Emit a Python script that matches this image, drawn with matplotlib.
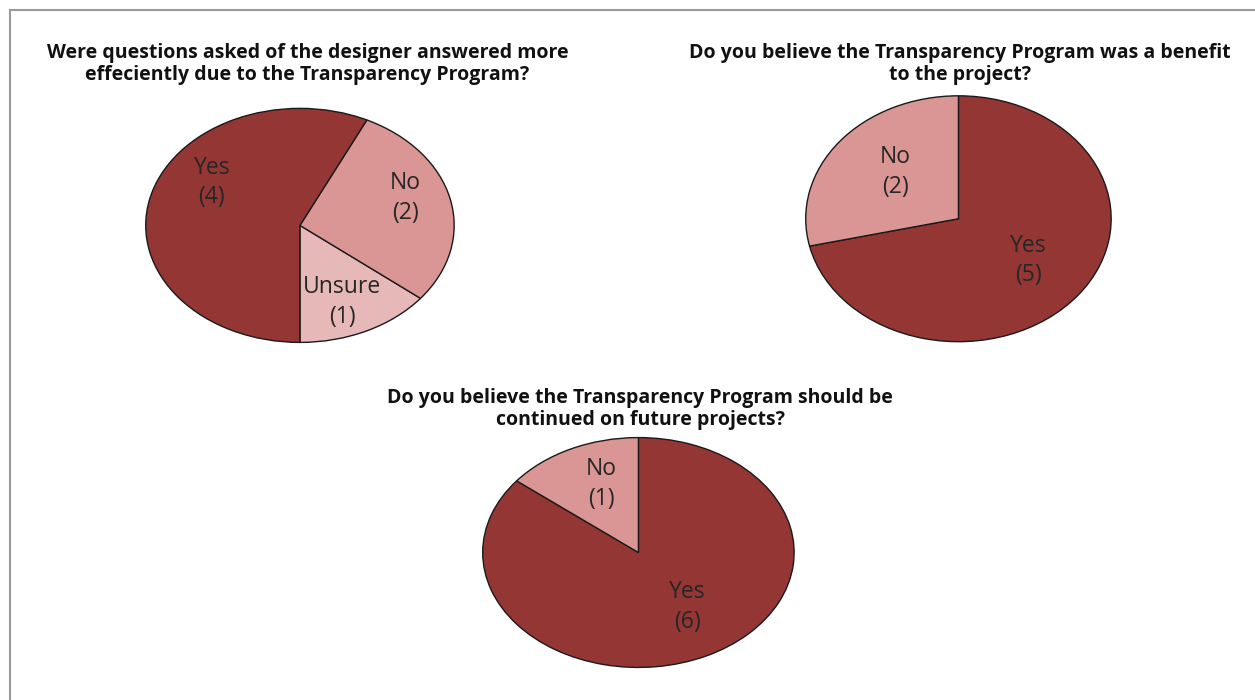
import numpy as np
import matplotlib
matplotlib.use("Agg")
import matplotlib.pyplot as plt
from matplotlib.lines import Line2D

# Survey answers for each question
q1_title = "Were questions asked of the designer answered more\neffeciently due to the Transparency Program?"
q1_labels = ["Unsure", "No", "Yes"]
q1_counts = [1, 2, 4]

q2_title = "Do you believe the Transparency Program was a benefit\nto the project?"
q2_labels = ["Yes", "No"]
q2_counts = [5, 2]

q3_title = "Do you believe the Transparency Program should be\ncontinued on future projects?"
q3_labels = ["Yes", "No"]
q3_counts = [6, 1]

DARK = "#943634"
MID = "#d99694"
LIGHT = "#e6b9b8"
TEXT = "#262626"

plt.rcParams["font.family"] = ["Open Sans", "DejaVu Sans"]

fig = plt.figure(figsize=(12.55, 7), dpi=100)
fig.patch.set_facecolor("white")


def draw_pie(rect, labels, counts, colors, start, ccw, radii, shifts):
    ax = fig.add_axes(rect)
    wedges, texts = ax.pie(
        counts,
        labels=[f"{l}\n({c})" for l, c in zip(labels, counts)],
        colors=colors,
        startangle=start,
        counterclock=ccw,
        wedgeprops=dict(edgecolor="#1a1a1a", linewidth=1.0),
        textprops=dict(color=TEXT, fontsize=16.5, linespacing=1.3),
    )
    # put each label inside its wedge, nudged along the arc
    for w, t, r, s in zip(wedges, texts, radii, shifts):
        ang = np.deg2rad((w.theta1 + w.theta2) / 2 + s)
        t.set_position((r * np.cos(ang), r * np.sin(ang)))
        t.set_ha("center")
        t.set_va("center")
    # stretch the pie to fill the axes box (elliptical look)
    ax.set_aspect("auto")
    ax.set_xlim(-1.005, 1.005)
    ax.set_ylim(-1.005, 1.005)
    return ax


draw_pie([0.1155, 0.510, 0.247, 0.336], q1_labels, q1_counts,
         [LIGHT, MID, DARK], -90, True, [0.71, 0.72, 0.68], [-3, 6, -20])
draw_pie([0.6414, 0.511, 0.2446, 0.353], q2_labels, q2_counts,
         [DARK, MID], 90, False, [0.57, 0.56], [2, -4])
draw_pie([0.384, 0.0457, 0.2494, 0.330], q3_labels, q3_counts,
         [DARK, MID], 90, False, [0.57, 0.64], [8, -4])

title_kw = dict(ha="center", va="center", fontsize=14, fontweight="bold",
                color="#111111", linespacing=1.15)
fig.text(307.5 / 1255, 1 - 64 / 700, q1_title, **title_kw)
fig.text(960 / 1255, 1 - 64 / 700, q2_title, **title_kw)
fig.text(640 / 1255, 1 - 409 / 700, q3_title, **title_kw)

# thin frame along the top and left edge
fig.add_artist(Line2D([9.5 / 1255, 9.5 / 1255], [0, 1 - 9.5 / 700],
                      transform=fig.transFigure, color="#9a9a9a", lw=1.5))
fig.add_artist(Line2D([9.5 / 1255, 1], [1 - 9.5 / 700, 1 - 9.5 / 700],
                      transform=fig.transFigure, color="#9a9a9a", lw=1.5))

fig.savefig("out.png", dpi=100, facecolor="white")
